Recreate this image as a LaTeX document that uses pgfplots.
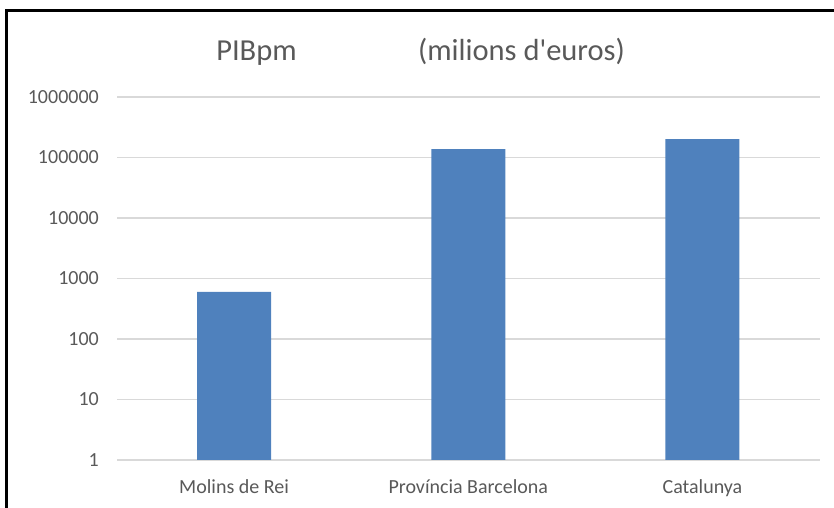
\documentclass[border=0pt]{standalone}
\usepackage{pgfplots}
\pgfplotsset{compat=1.18}
\usepackage{fontspec}
\setmainfont{Carlito}[Ligatures=TeXOff]
\definecolor{barblue}{RGB}{79,129,189}
\definecolor{gridgray}{RGB}{217,217,217}
\definecolor{textgray}{RGB}{89,89,89}
\begin{document}
\begin{tikzpicture}[x=1bp,y=1bp]
\path[use as bounding box] (0,0) rectangle (834,508);
\draw[line width=2.6bp] (6.5,0) -- (6.5,497.3) -- (834,497.3);
\begin{axis}[
  at={(117bp,48bp)}, anchor=south west,
  scale only axis, width=702.5bp, height=363bp,
  ymode=log, ymin=1, ymax=1000000, xmin=-0.5, xmax=2.5,
  ytick={1,10,100,1000,10000,100000,1000000},
  yticklabels={1,10,100,1000,10000,100000,1000000},
  yminorticks=false,
  xtick={0,1,2},
  xticklabels={Molins de Rei, Província Barcelona, Catalunya},
  axis lines*=left,
  y axis line style={draw=none},
  x axis line style={draw=gridgray, line width=1.4bp, -},
  major tick length=0pt,
  ymajorgrids, grid style={draw=gridgray, line width=1.4bp},
  tick label style={text=textgray, font=\fontsize{20bp}{24bp}\selectfont},
  yticklabel style={anchor=east, inner sep=0pt, xshift=-18bp},
  xticklabel style={anchor=base, inner sep=0pt, yshift=-34bp},
  ybar, bar width=74bp,
  clip=false,
]
\addplot[fill=barblue, draw=none] coordinates {(0,600) (1,138000) (2,202000)};
\end{axis}
\node[text=textgray, font=\fontsize{30.5bp}{36bp}\selectfont, anchor=base] at (256.5,447) {PIBpm};
\node[text=textgray, font=\fontsize{30.5bp}{36bp}\selectfont, anchor=base] at (521.5,447) {(milions d'euros)};
\end{tikzpicture}
\end{document}
